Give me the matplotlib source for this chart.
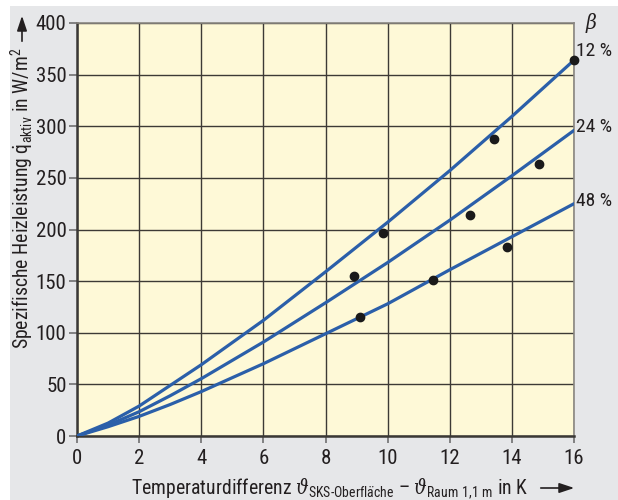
import matplotlib
matplotlib.use('Agg')
import matplotlib.pyplot as plt
from matplotlib import font_manager
from matplotlib.patches import Rectangle

# Werte
dT = [0, 1, 2, 3, 4, 6, 8, 10, 12, 14, 16]
q_12 = [0, 12.5, 29, 49, 69, 112, 159, 207, 257, 309.5, 364]
q_24 = [0, 10.5, 23.5, 39, 55.5, 91, 129, 168, 209, 252, 296]
q_48 = [0, 9, 19, 30.5, 43, 70, 99, 128, 161, 193, 225]
beta_labels = ['12 %', '24 %', '48 %']
label_pos = [373, 299, 228]

mess_x = [16.0, 13.42, 14.88, 12.66, 13.85, 9.86, 8.92, 11.47, 9.12]
mess_y = [364, 288, 263, 214, 183, 197, 155, 151, 115]

xticks = [0, 2, 4, 6, 8, 10, 12, 14, 16]
yticks = [0, 50, 100, 150, 200, 250, 300, 350, 400]

# schmale Schrift suchen
vorhanden = {f.name for f in font_manager.fontManager.ttflist}
schrift = 'DejaVu Sans'
for kandidat in ['Liberation Sans Narrow', 'Roboto Condensed', 'Open Sans Condensed']:
    if kandidat in vorhanden:
        schrift = kandidat
        break
plt.rcParams['font.family'] = [schrift, 'DejaVu Sans']
plt.rcParams['font.stretch'] = 'condensed'
plt.rcParams['mathtext.fontset'] = 'custom'
plt.rcParams['mathtext.rm'] = schrift + ':stretch=condensed'
plt.rcParams['mathtext.it'] = 'DejaVu Serif:italic'

txt = '#231f20'
blau = '#2b5fa9'
gitter = '#3d3a35'

W, H = 618, 500
fig = plt.figure(figsize=(W / 100, H / 100), dpi=100)
fig.patch.set_facecolor('white')
fig.patches.append(Rectangle((10 / W, 0), 1, 1 - 6 / H, transform=fig.transFigure,
                             facecolor='#e6e7e9', edgecolor='none', zorder=-10))

ax = fig.add_axes([77 / W, 64 / H, 497 / W, 413 / H])
ax.set_facecolor('#fef9d7')
ax.set_xlim(0, 16)
ax.set_ylim(0, 400)
ax.set_xticks(xticks)
ax.set_yticks(yticks)
ax.grid(True, color=gitter, lw=1.0)
ax.set_axisbelow(True)
ax.tick_params(axis='both', direction='out', color='#707070', labelcolor=txt,
               labelsize=15, width=1.2)
ax.tick_params(axis='y', length=6, pad=1.5)
ax.tick_params(axis='x', length=5, pad=4)
for s in ['left', 'bottom']:
    ax.spines[s].set_color('#3a3835')
    ax.spines[s].set_linewidth(1.8)
for s in ['top', 'right']:
    ax.spines[s].set_color('#8a8781')
    ax.spines[s].set_linewidth(1.2)

for q in [q_12, q_24, q_48]:
    ax.plot(dT, q, color=blau, lw=2.3, solid_capstyle='round',
            solid_joinstyle='round', zorder=3)
ax.plot(mess_x, mess_y, 'o', color='#1a1a1a', ms=6, zorder=4, clip_on=False)

for lab, yp in zip(beta_labels, label_pos):
    ax.text(16.08, yp, lab, fontsize=14, color=txt, ha='left', va='center')
fig.text(591 / W, 1 - 23 / H, r'$\beta$', fontsize=15, color=txt, ha='center', va='center')

# Achsenbeschriftungen
fig.text(529 / W, 1 - 488 / H,
         r'Temperaturdifferenz $\vartheta_{\mathrm{SKS\text{-}Oberfl\ddot{a}che}}$ – '
         r'$\vartheta_{\mathrm{Raum\ 1{,}1\ m}}$ in K',
         fontsize=14.2, color=txt, ha='right', va='center')
fig.text(22 / W, 1 - 48 / H,
         r'Spezifische Heizleistung $\dot{\mathrm{q}}_{\mathrm{aktiv}}$ in W/m$^{\mathrm{2}}$',
         fontsize=14.2, color=txt, rotation=90, ha='center', va='top')

# Pfeile
fig.add_artist(plt.Annotation('', xy=(577 / W, 1 - 488 / H), xytext=(538 / W, 1 - 488 / H),
                              xycoords='figure fraction',
                              arrowprops=dict(arrowstyle='-|>,head_length=0.9,head_width=0.3',
                                              color=txt, lw=1.2)))
fig.add_artist(plt.Annotation('', xy=(22 / W, 1 - 13 / H), xytext=(22 / W, 1 - 44 / H),
                              xycoords='figure fraction',
                              arrowprops=dict(arrowstyle='-|>,head_length=0.9,head_width=0.3',
                                              color=txt, lw=1.2)))

fig.savefig('out.png', dpi=100)
